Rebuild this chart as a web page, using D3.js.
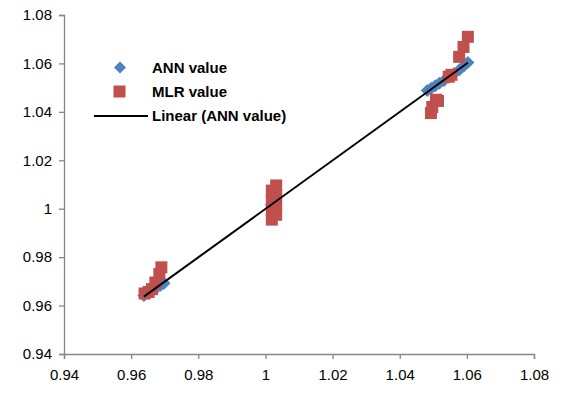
<!DOCTYPE html>
<html>
<head>
<meta charset="utf-8">
<script src="https://cdn.jsdelivr.net/npm/d3@7/dist/d3.min.js"></script>
<style>
  html, body { margin: 0; padding: 0; background: #fff; }
  svg { display: block; }
  .tick text { font-family: "Liberation Sans", Arial, sans-serif; font-size: 15px; fill: #000; }
  .legend text { font-family: "Liberation Sans", Arial, sans-serif; font-size: 15px; font-weight: bold; fill: #000; }
</style>
</head>
<body>
<svg id="chart" width="562" height="394"></svg>
<script>
// Observed (x) vs predicted (y) values for the two models
const annX = [0.9638, 0.9650, 0.9662, 0.9676, 0.9688, 0.9698,
              1.0018, 1.0025, 1.0031,
              1.0482, 1.0494, 1.0506, 1.0518, 1.0532, 1.0546, 1.0562, 1.0578, 1.0591, 1.0603];
const annY = [0.9642, 0.9652, 0.9662, 0.9674, 0.9684, 0.9692,
              1.0016, 1.0024, 1.0030,
              1.0488, 1.0498, 1.0508, 1.0518, 1.0530, 1.0543, 1.0558, 1.0574, 1.0589, 1.0604];

const mlrX = [0.9640, 0.9652, 0.9662, 0.9672, 0.9684, 0.9690,
              1.0019, 1.0032, 1.0019, 1.0032, 1.0019, 1.0032, 1.0019, 1.0032,
              1.0493, 1.0497, 1.0508, 1.0514, 1.0546, 1.0554, 1.0577, 1.0590, 1.0603];
const mlrY = [0.9650, 0.9656, 0.9668, 0.9695, 0.9730, 0.9758,
              0.9955, 0.9975, 0.9995, 1.0015, 1.0035, 1.0055, 1.0075, 1.0096,
              1.0395, 1.0420, 1.0450, 1.0445, 1.0545, 1.0553, 1.0627, 1.0668, 1.0710];

const xTicks = [0.94, 0.96, 0.98, 1, 1.02, 1.04, 1.06, 1.08];
const yTicks = [0.94, 0.96, 0.98, 1, 1.02, 1.04, 1.06, 1.08];

const seriesNames = ["ANN value", "MLR value", "Linear (ANN value)"];

const svg = d3.select("#chart");
const x = d3.scaleLinear().domain([0.94, 1.08]).range([64, 534]);
const y = d3.scaleLinear().domain([0.94, 1.08]).range([354, 15]);

const fmt = d => String(+d.toFixed(2));
const axisColor = "#868686";

// Axes
const gx = svg.append("g").attr("transform", `translate(0,${y(0.94)})`)
  .call(d3.axisBottom(x).tickValues(xTicks).tickFormat(fmt).tickSize(5).tickPadding(10));
const gy = svg.append("g").attr("transform", `translate(${x(0.94)},0)`)
  .call(d3.axisLeft(y).tickValues(yTicks).tickFormat(fmt).tickSize(5).tickPadding(7));
[gx, gy].forEach(g => {
  g.select(".domain").attr("stroke", axisColor).attr("stroke-width", 1.3);
  g.selectAll(".tick line").attr("stroke", axisColor).attr("stroke-width", 1.3);
});

const blue = "#4F81BD", red = "#C0504D";
const diamond = (cx, cy, r) => `M${cx},${cy - r}L${cx + r},${cy}L${cx},${cy + r}L${cx - r},${cy}Z`;
const sq = 12;

const ann = annX.map((v, i) => ({ x: v, y: annY[i] }));
const mlr = mlrX.map((v, i) => ({ x: v, y: mlrY[i] }));

// ANN markers
svg.append("g").selectAll("path").data(ann).join("path")
  .attr("d", d => diamond(x(d.x), y(d.y), 6.5))
  .attr("fill", blue);

// MLR markers
svg.append("g").selectAll("rect").data(mlr).join("rect")
  .attr("x", d => x(d.x) - sq / 2)
  .attr("y", d => y(d.y) - sq / 2)
  .attr("width", sq).attr("height", sq)
  .attr("fill", red);

// Least-squares trend line fitted to the ANN series
const mx = d3.mean(annX), my = d3.mean(annY);
const slope = d3.sum(ann, d => (d.x - mx) * (d.y - my)) / d3.sum(ann, d => (d.x - mx) ** 2);
const intercept = my - slope * mx;
const [x0, x1] = d3.extent(annX);
svg.append("line")
  .attr("x1", x(x0)).attr("y1", y(intercept + slope * x0))
  .attr("x2", x(x1)).attr("y2", y(intercept + slope * x1))
  .attr("stroke", "#000").attr("stroke-width", 2);

// Legend
const lg = svg.append("g").attr("class", "legend");
lg.append("path").attr("d", diamond(120, 67.5, 6)).attr("fill", blue);
lg.append("rect").attr("x", 113.5).attr("y", 85.5).attr("width", 12).attr("height", 12).attr("fill", red);
lg.append("line").attr("x1", 94).attr("x2", 148).attr("y1", 116).attr("y2", 116)
  .attr("stroke", "#000").attr("stroke-width", 2);
[67.5, 91.5, 116].forEach((cy, i) => {
  lg.append("text").attr("x", 152).attr("y", cy).attr("dy", "0.35em").text(seriesNames[i]);
});
</script>
</body>
</html>
